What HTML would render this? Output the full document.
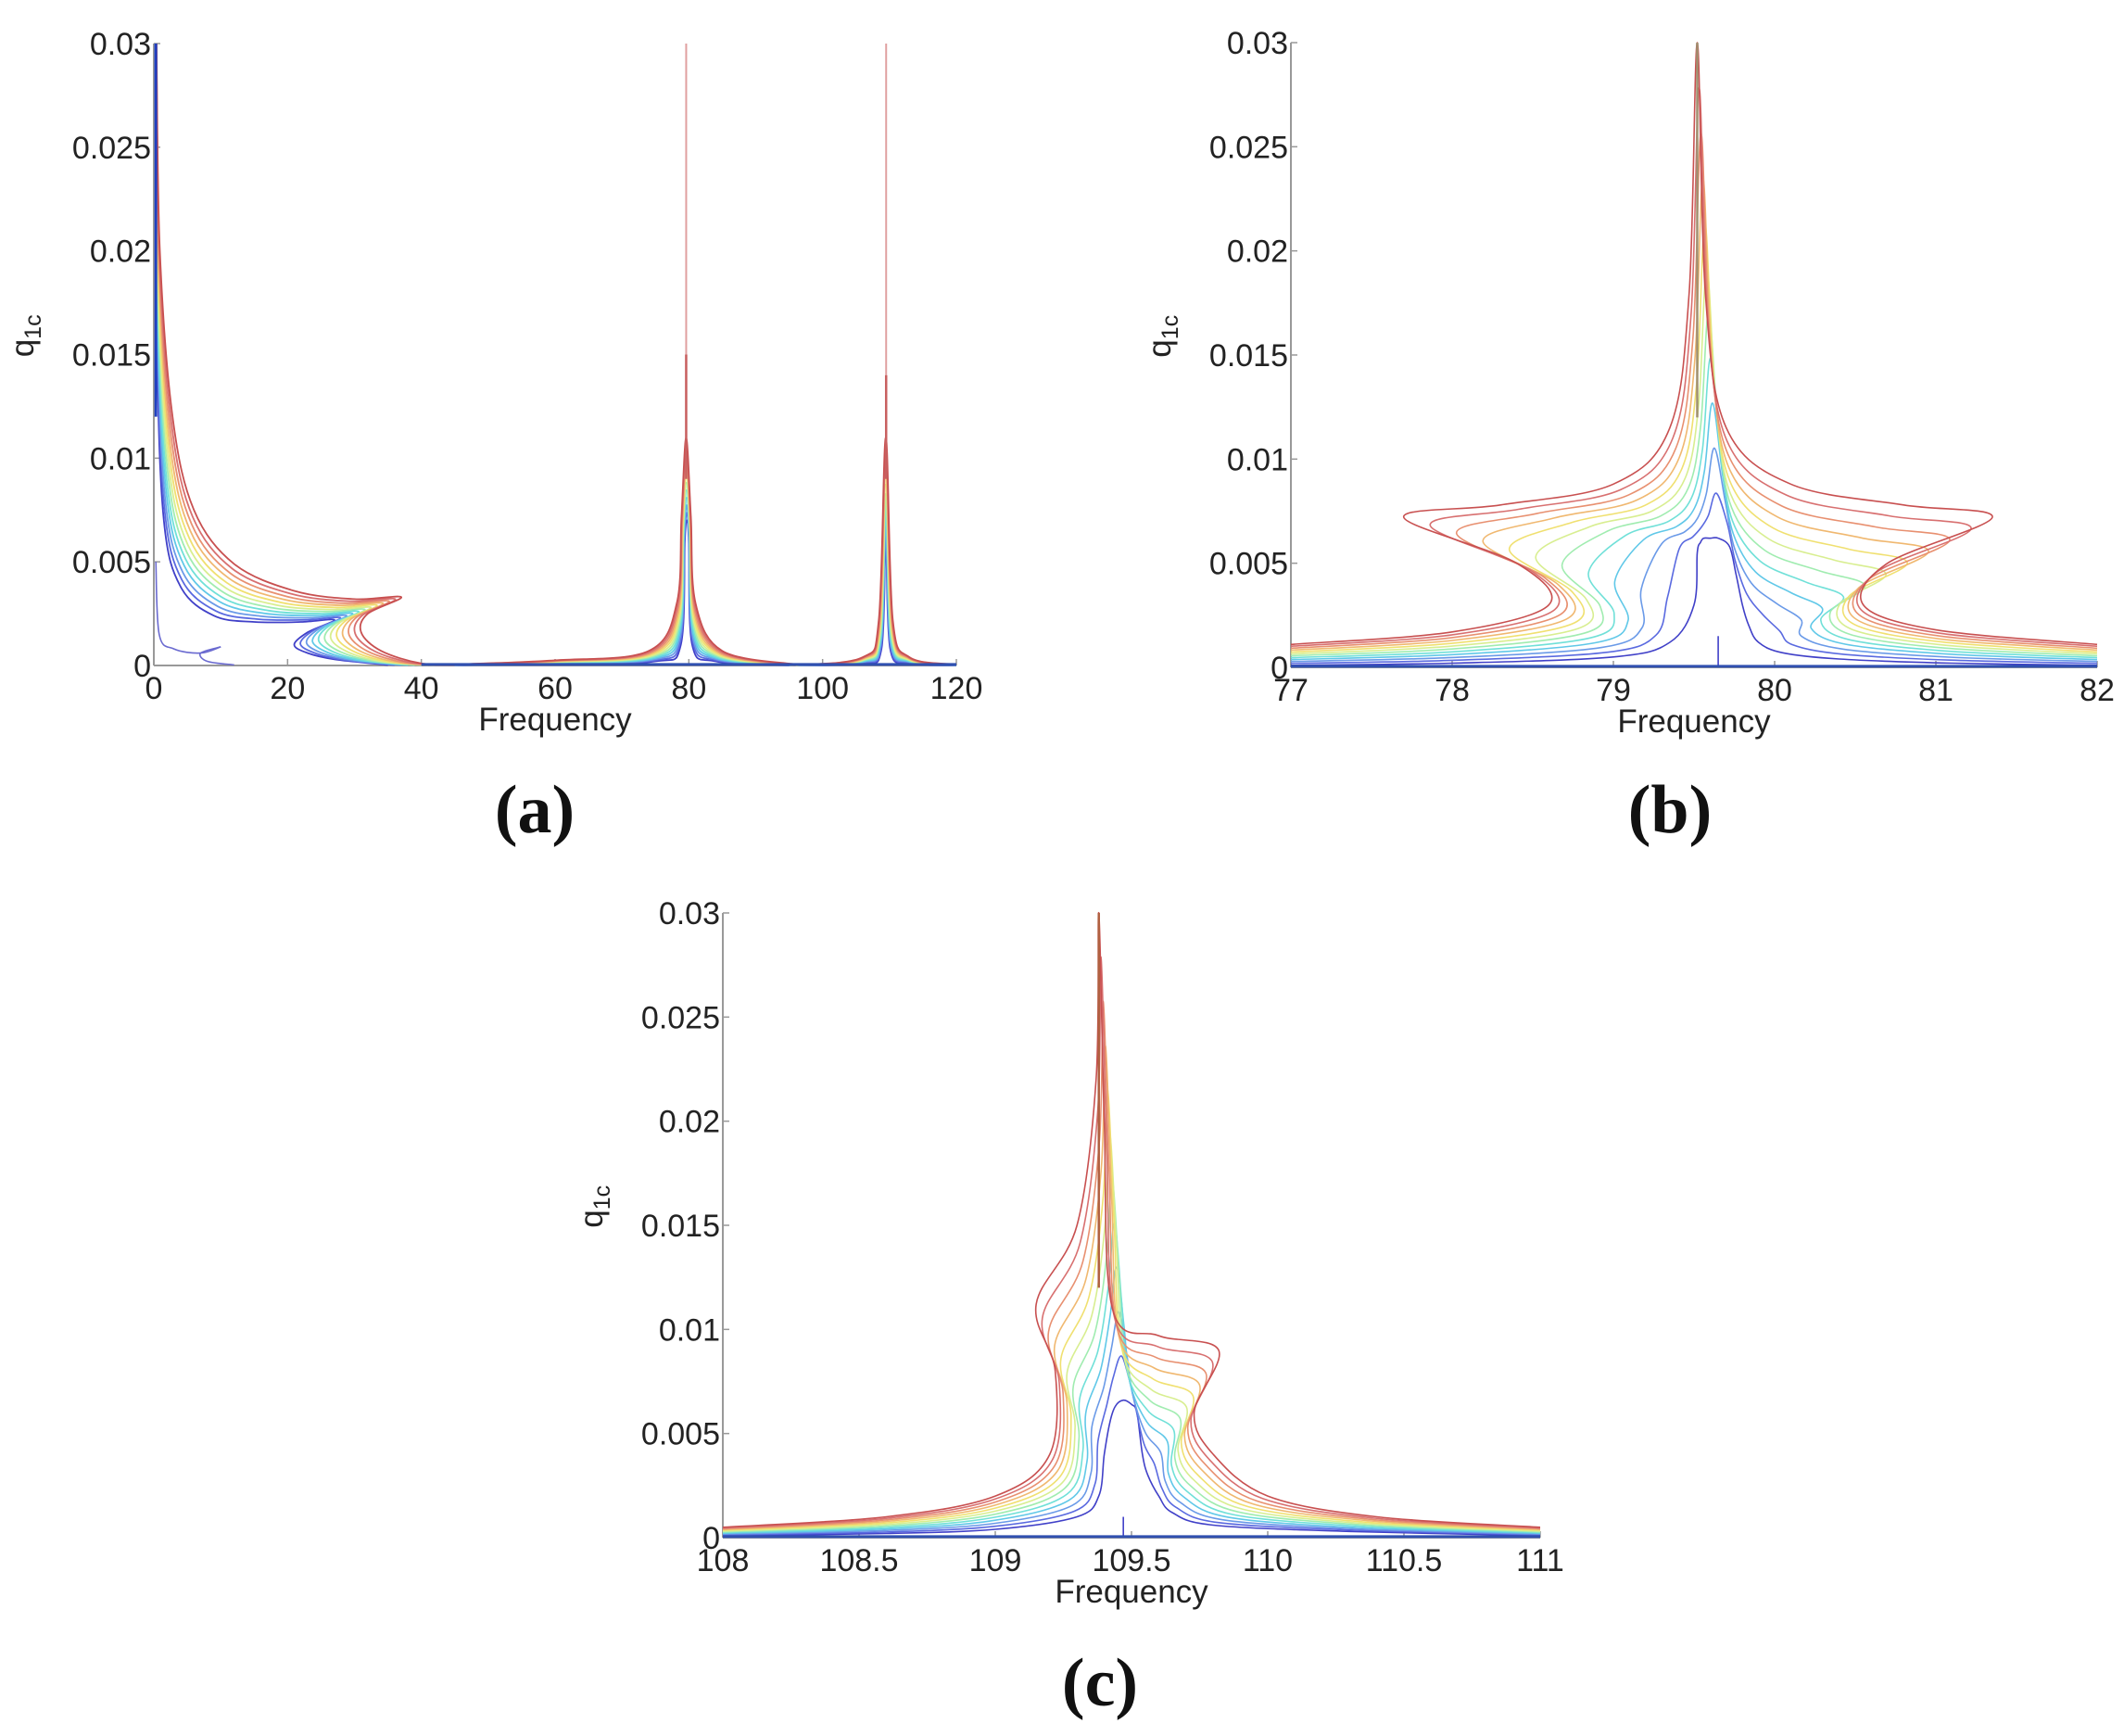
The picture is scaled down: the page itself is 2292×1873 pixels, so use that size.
<!DOCTYPE html>
<html><head><meta charset="utf-8">
<style>
html,body{margin:0;padding:0;background:#fff;}
svg{display:block;}
text{font-family:"Liberation Sans",Arial,sans-serif;fill:#222;}
.lab{font-family:"Liberation Serif",serif;font-weight:bold;fill:#111;}
</style></head>
<body>
<svg id="s" width="2292" height="1873" viewBox="0 0 2292 1873" xmlns="http://www.w3.org/2000/svg">
<rect width="2292" height="1873" fill="#fff"/>
<text class="lab" x="577" y="898" font-size="74" text-anchor="middle">(a)</text>
<text class="lab" x="1802" y="898" font-size="74" text-anchor="middle">(b)</text>
<text class="lab" x="1187" y="1840" font-size="74" text-anchor="middle">(c)</text>
</svg>
<script>
const S=document.getElementById('s');const NS='http://www.w3.org/2000/svg';
function el(t,a,txt){const e=document.createElementNS(NS,t);for(const k in a)e.setAttribute(k,a[k]);if(txt!==undefined)e.textContent=txt;S.appendChild(e);return e;}
const cols=['#4040c8','#5a6ae0','#6a9ae8','#60c8e8','#70e0d8','#a0ecb0','#d8ee90','#f0e070','#f0b870','#e89070','#d87070','#c85050'];
function panel(P){
  const X=v=>P.x0+(v-P.xa)/(P.xb-P.xa)*(P.x1-P.x0);
  const Y=v=>P.y0-(v/0.03)*(P.y0-P.y1);
  P.X=X;P.Y=Y;
  el('line',{x1:P.x0,y1:P.y1,x2:P.x0,y2:P.y0,stroke:'#999','stroke-width':2});
  el('line',{x1:P.x0,y1:P.y0,x2:P.x1,y2:P.y0,stroke:'#999','stroke-width':2});
  ['0','0.005','0.01','0.015','0.02','0.025','0.03'].forEach((t,i)=>{const y=Y(i*0.005);
    el('line',{x1:P.x0,y1:y,x2:P.x0+7,y2:y,stroke:'#999','stroke-width':1.5});
    el('text',{x:P.x0-3,y:y+12,'font-size':34,'text-anchor':'end'},t);});
  P.xt.forEach(v=>{const x=X(v);el('line',{x1:x,y1:P.y0,x2:x,y2:P.y0-7,stroke:'#999','stroke-width':1.5});
    el('text',{x:x,y:P.y0+36,'font-size':34,'text-anchor':'middle'},String(v));});
  el('text',{x:(P.x0+P.x1)/2,y:P.y0+70,'font-size':35,'text-anchor':'middle'},'Frequency');
  const yl=P.y1+(P.y0-P.y1)*0.47;
  const g=el('text',{x:0,y:0,'font-size':35,'text-anchor':'middle',transform:`translate(${P.x0-130},${yl}) rotate(-90)`},'q');
  const ts=document.createElementNS(NS,'tspan');ts.setAttribute('font-size','25');ts.setAttribute('dy','8');ts.textContent='1c';g.appendChild(ts);
}
function smooth(pts){let d='M'+pts[0][0].toFixed(1)+' '+pts[0][1].toFixed(1);
  for(let i=0;i<pts.length-1;i++){const p0=pts[Math.max(0,i-1)],p1=pts[i],p2=pts[i+1],p3=pts[Math.min(pts.length-1,i+2)];
    const c1=[p1[0]+(p2[0]-p0[0])/6,p1[1]+(p2[1]-p0[1])/6],c2=[p2[0]-(p3[0]-p1[0])/6,p2[1]-(p3[1]-p1[1])/6];
    d+=`C${c1[0].toFixed(1)} ${c1[1].toFixed(1)} ${c2[0].toFixed(1)} ${c2[1].toFixed(1)} ${p2[0].toFixed(1)} ${p2[1].toFixed(1)}`;}
  return d;}
function family(P,A,B,w){for(let i=0;i<12;i++){const t=i/11;
  const pts=A.map((a,k)=>[P.X(a[0]*(1-t)+B[k][0]*t),P.Y(a[1]*(1-t)+B[k][1]*t)]);
  el('path',{d:smooth(pts),fill:'none',stroke:cols[i],'stroke-width':w||1.8});}}
function line(P,pts,c,w){el('path',{d:smooth(pts.map(p=>[P.X(p[0]),P.Y(p[1])])),fill:'none',stroke:c,'stroke-width':w||1.8});}

// Panel a
const A={x0:166,x1:1032,y0:718,y1:47,xa:0,xb:120,xt:[0,20,40,60,80,100,120]};panel(A);
family(A,[[0.2,0.03],[0.5,0.015],[1.5,0.007],[4,0.0038],[9,0.0024],[15,0.0021],[22,0.0021],[27,0.0022],[23,0.0016],[21,0.001],[23,0.0006],[27,0.0003],[35,0.00002]],
 [[0.4,0.03],[0.9,0.02],[2.8,0.012],[6,0.0075],[12,0.0049],[21,0.0036],[30,0.0032],[37,0.0033],[32,0.0025],[31,0.0016],[34,0.0007],[40,0.0001],[46,0.00002]]);
line(A,[[0.3,0.005],[0.8,0.0015],[3,0.0008],[7,0.0006],[10,0.0009]],'#6a6ad0',1.6);
line(A,[[10,0.0009],[7,0.0006],[8,0.0002],[12,0.00003]],'#6a6ad0',1.6);
family(A,[[45,0],[60,0.00008],[75,0.0002],[78.8,0.001],[79.4,0.006],[79.7,0.007],[80.0,0.006],[80.5,0.001],[84,0.0002],[95,0]],
 [[45,0.00005],[60,0.00025],[74,0.0007],[78.2,0.003],[78.9,0.0072],[79.6,0.011],[80.3,0.0072],[81,0.003],[85,0.0007],[96,0.00005]]);
family(A,[[96,0],[106,0.0001],[108.8,0.0008],[109.45,0.006],[110.1,0.0008],[113,0.0001],[120,0]],
 [[96,0.00002],[106,0.0004],[108.4,0.0022],[109.45,0.011],[110.5,0.0022],[113,0.0004],[120,0.00005]]);
el('line',{x1:A.X(79.6),y1:A.Y(0.03),x2:A.X(79.6),y2:A.Y(0.01),stroke:'#e0a0a0','stroke-width':2});
el('line',{x1:A.X(109.5),y1:A.Y(0.03),x2:A.X(109.5),y2:A.Y(0.01),stroke:'#e0a0a0','stroke-width':2});
el('line',{x1:A.X(79.6),y1:A.Y(0.015),x2:A.X(79.6),y2:A.Y(0.009),stroke:'#c86060','stroke-width':2.5});
el('line',{x1:A.X(109.5),y1:A.Y(0.014),x2:A.X(109.5),y2:A.Y(0.009),stroke:'#c86060','stroke-width':2.5});
el('line',{x1:A.X(0.3),y1:A.Y(0.03),x2:A.X(0.3),y2:A.Y(0.012),stroke:'#2040c0','stroke-width':3});
el('line',{x1:A.X(40),y1:A.Y(0.00005),x2:A.X(120),y2:A.Y(0.00005),stroke:'#3050b0','stroke-width':3});

// Panel b
const B={x0:1393,x1:2263,y0:720,y1:46,xa:77,xb:82,xt:[77,78,79,80,81,82]};panel(B);
family(B,[[77,0.0001],[78,0.0002],[79.0,0.0005],[79.35,0.0012],[79.5,0.003],[79.52,0.0055],[79.54,0.006],[79.56,0.0062],[79.6,0.0062],[79.65,0.0062],[79.72,0.0058],[79.76,0.0045],[79.8,0.003],[79.84,0.002],[79.9,0.0012],[80.05,0.0007],[80.4,0.0004],[81.1,0.0002],[82,0.0001]],
 [[77,0.0011],[78,0.0017],[78.6,0.003],[78.4,0.005],[77.7,0.0072],[78.3,0.0078],[79.0,0.0088],[79.35,0.0115],[79.47,0.018],[79.52,0.03],[79.57,0.018],[79.7,0.0115],[80.1,0.0088],[80.8,0.0078],[81.35,0.0072],[80.7,0.005],[80.55,0.003],[81,0.0018],[82,0.0011]],1.6);
el('line',{x1:B.X(79.65),y1:B.Y(0),x2:B.X(79.65),y2:B.Y(0.0015),stroke:'#4040c8','stroke-width':1.6});
el('line',{x1:B.X(79.52),y1:B.Y(0.03),x2:B.X(79.52),y2:B.Y(0.012),stroke:'#a09070','stroke-width':2.5});
el('line',{x1:B.X(77),y1:B.Y(0.00005),x2:B.X(82),y2:B.Y(0.00005),stroke:'#3050b0','stroke-width':3});

// Panel c
const C={x0:780,x1:1662,y0:1659,y1:985,xa:108,xb:111,xt:[108,108.5,109,109.5,110,110.5,111]};panel(C);
family(C,[[108,0.0001],[108.6,0.0002],[109,0.0004],[109.3,0.001],[109.38,0.002],[109.4,0.004],[109.42,0.0055],[109.44,0.0063],[109.47,0.0066],[109.5,0.0064],[109.52,0.006],[109.54,0.004],[109.56,0.003],[109.6,0.002],[109.65,0.0012],[109.8,0.0006],[110.3,0.0003],[111,0.0001]],
 [[108,0.0005],[108.6,0.001],[109,0.002],[109.2,0.004],[109.22,0.008],[109.15,0.0112],[109.3,0.015],[109.37,0.022],[109.38,0.03],[109.4,0.02],[109.43,0.011],[109.6,0.0097],[109.82,0.009],[109.73,0.006],[109.8,0.004],[110,0.002],[110.4,0.001],[111,0.0005]],1.6);
el('line',{x1:C.X(109.47),y1:C.Y(0),x2:C.X(109.47),y2:C.Y(0.001),stroke:'#4040c8','stroke-width':1.6});
el('line',{x1:C.X(109.38),y1:C.Y(0.03),x2:C.X(109.38),y2:C.Y(0.012),stroke:'#b06040','stroke-width':2.5});
el('line',{x1:C.X(108),y1:C.Y(0.00005),x2:C.X(111),y2:C.Y(0.00005),stroke:'#3050b0','stroke-width':3});
</script>
</body></html>
